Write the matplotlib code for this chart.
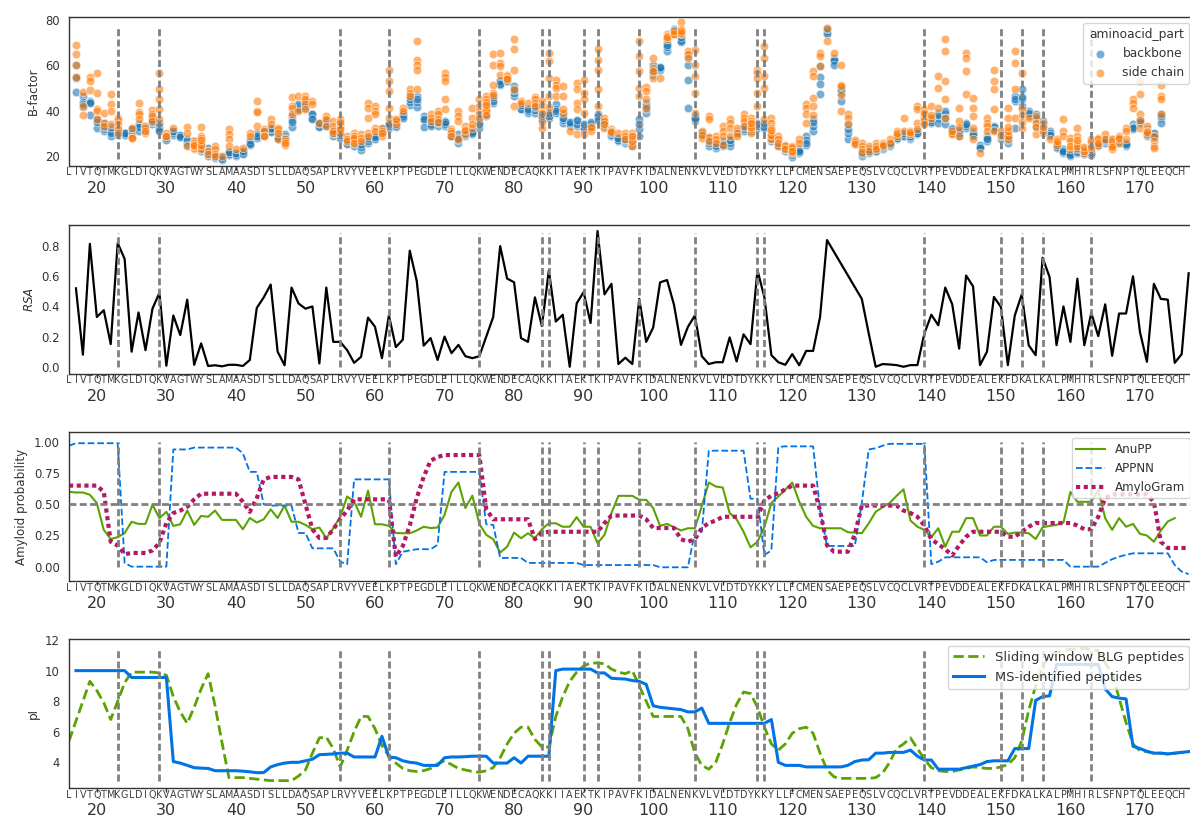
import matplotlib
matplotlib.use('Agg')
import matplotlib.pyplot as plt
import numpy as np

# Mature BLG sequence, residue 1 sits at position 16 on the x axis
sequence = ("LIVTQTMKGL" "DIQKVAGTWY" "SLAMAASDIS" "LLDAQSAPLR" "VYVEELKPTP"
            "EGDLEILLQK" "WENDECAQKK" "IIAEKTKIPA" "VFKIDALNEN" "KVLVLDTDYK"
            "KYLLFCMENS" "AEPEQSLVCQ" "CLVRTPEVDD" "EALEKFDKAL" "KALPMHIRLS"
            "FNPTQLEEQC" "HI")
seq_start = 16
seq_pos = list(range(seq_start, seq_start + len(sequence)))
# letters shown under the axis (the last residue falls off the edge)
label_pos = seq_pos[:-1]
label_letters = list(sequence[:-1])

# trypsin cleavage sites
cut_sites = [23, 29, 55, 62, 75, 84, 85, 90, 92, 98, 106, 115, 116, 139, 150, 153, 156, 163]

# B-factors per residue (17..173): backbone atoms and side chain atoms
bfactor_start = 17
backbone_b = [
    [48.5, 55.0, 54.5, 60.0], [46.5, 44.0, 41.5, 43.0], [44.5, 44.0, 43.5, 38.0], [36.5, 32.5, 36.0, 35.0],
    [31.0, 32.0, 34.5, 33.0], [31.0, 28.8, 30.0, 33.0], [30.0, 30.0, 31.0, 29.5], [30.0, 30.0, 29.5, 30.0],
    [31.8, 31.0, 32.0, 30.0], [33.0, 31.0, 34.0, 33.0], [32.0, 32.5, 31.5, 33.0], [36.0, 34.0, 35.0, 36.5],
    [33.0, 32.0, 34.5, 31.0], [27.5, 28.5, 27.0, 28.0], [29.5, 31.0, 30.0, 31.0], [29.0, 29.0, 29.5, 28.5],
    [27.5, 26.2, 27.0, 25.0], [26.5, 25.0, 26.0, 25.5], [22.2, 24.4, 23.0, 23.5], [20.0, 23.7, 22.0, 21.0],
    [19.3, 20.0, 20.5, 19.5], [18.5, 19.0, 19.5, 18.8], [20.7, 21.8, 21.0, 22.0], [20.0, 21.0, 20.5, 21.5],
    [21.2, 22.0, 21.0, 22.5], [25.0, 26.0, 27.0, 25.5], [28.8, 28.0, 30.0, 29.0], [30.0, 29.5, 31.0, 30.5],
    [31.0, 30.5, 32.0, 32.5], [28.8, 27.5, 29.0, 28.0], [29.6, 29.0, 28.0, 27.5], [33.0, 37.6, 36.0, 35.0],
    [42.0, 40.6, 41.0, 43.0], [41.3, 43.5, 42.0, 44.0], [38.4, 37.0, 38.8, 36.5], [33.5, 34.0, 33.0, 34.5],
    [35.0, 34.0, 33.5, 35.5], [31.0, 28.8, 30.0, 31.5], [28.8, 28.0, 29.5, 30.0], [25.9, 26.5, 25.5, 27.0],
    [25.1, 24.4, 26.0, 25.5], [22.6, 25.0, 24.0, 25.5], [25.9, 27.4, 26.5, 28.0], [28.1, 27.4, 29.0, 28.5],
    [31.8, 32.0, 31.0, 30.5], [32.5, 34.7, 33.5, 34.0], [33.0, 34.0, 33.5, 35.0], [38.0, 37.5, 38.5, 37.0],
    [42.4, 46.5, 44.0, 45.0], [41.8, 46.5, 44.0, 45.0], [37.6, 35.9, 36.5, 33.0], [34.7, 34.0, 35.5, 33.5],
    [35.4, 33.5, 34.5, 35.0], [35.4, 33.2, 34.0, 35.0], [29.6, 28.8, 30.0, 29.0], [29.6, 25.9, 27.0, 28.0],
    [28.8, 30.3, 29.5, 30.0], [29.6, 31.0, 30.5, 30.0], [32.5, 36.9, 35.0, 34.0], [37.6, 40.6, 39.0, 38.5],
    [45.0, 43.5, 44.5, 46.0], [53.1, 51.6, 53.0, 52.0], [53.4, 53.8, 53.0, 54.0], [50.9, 46.5, 48.0, 49.0],
    [42.0, 40.6, 41.0, 42.5], [40.6, 39.1, 40.0, 41.0], [42.0, 39.1, 40.5, 41.5], [36.2, 38.4, 37.0, 37.5],
    [38.4, 36.9, 37.5, 39.0], [42.8, 39.1, 41.0, 40.0], [38.4, 34.7, 36.0, 37.0], [34.7, 33.2, 34.0, 35.0],
    [35.4, 33.2, 34.0, 36.0], [33.2, 31.8, 32.5, 34.0], [34.0, 32.5, 33.5, 35.0], [36.9, 38.4, 37.5, 36.0],
    [34.0, 33.2, 34.5, 35.0], [28.8, 30.3, 29.5, 30.0], [27.4, 26.6, 27.0, 28.0], [25.9, 26.5, 27.0, 27.5],
    [25.9, 24.4, 25.0, 26.0], [36.2, 29.1, 32.0, 34.0], [43.5, 39.1, 41.0, 42.0], [60.4, 56.0, 58.0, 57.0],
    [59.0, 58.2, 58.8, 59.5], [70.0, 66.3, 68.0, 69.0], [75.9, 74.4, 75.0, 75.5], [71.8, 70.3, 71.0, 72.5],
    [53.8, 64.1, 41.3, 60.0], [37.6, 35.4, 36.5, 37.0], [30.3, 28.8, 29.5, 30.0], [28.1, 24.4, 26.0, 27.0],
    [23.7, 25.9, 25.0, 24.5], [24.4, 25.9, 25.0, 26.5], [27.4, 24.4, 26.0, 27.0], [29.6, 31.0, 30.5, 30.0],
    [32.5, 31.0, 32.0, 33.0], [32.5, 31.0, 32.0, 33.0], [34.7, 32.5, 33.5, 34.0], [34.0, 32.5, 33.0, 34.5],
    [28.8, 26.6, 27.5, 28.0], [24.4, 25.9, 25.0, 24.8], [22.2, 24.4, 23.5, 23.0], [19.5, 21.5, 21.0, 20.5],
    [21.5, 23.0, 22.0, 22.5], [25.1, 28.8, 27.0, 26.0], [31.0, 36.2, 33.5, 35.0], [47.2, 59.7, 55.0, 52.0],
    [73.7, 75.1, 74.5, 76.0], [63.4, 61.9, 62.5, 60.4], [44.3, 50.1, 48.0, 49.0], [34.0, 27.4, 30.0, 32.0],
    [25.9, 26.5, 25.5, 26.0], [20.0, 22.2, 21.0, 21.5], [21.5, 22.5, 22.0, 23.0], [22.2, 23.0, 22.5, 23.5],
    [23.0, 24.4, 23.5, 24.0], [24.4, 25.9, 25.0, 25.5], [27.4, 28.8, 28.0, 27.8], [28.8, 29.6, 29.0, 30.0],
    [27.4, 28.1, 28.5, 29.0], [29.6, 30.3, 31.0, 30.0], [34.7, 36.2, 35.5, 35.0], [34.7, 36.9, 36.0, 35.0],
    [39.1, 36.9, 34.7, 38.0], [38.4, 39.9, 34.0, 37.0], [32.5, 30.3, 31.5, 32.0], [31.0, 28.8, 30.0, 31.5],
    [34.7, 32.5, 33.5, 34.0], [31.0, 28.8, 30.0, 29.5], [24.4, 25.1, 24.0, 23.7], [26.6, 28.8, 28.0, 27.5],
    [32.5, 33.2, 33.0, 31.5], [28.8, 27.4, 28.0, 29.0], [25.9, 28.8, 27.0, 28.0], [32.5, 44.3, 46.5, 45.0],
    [49.4, 42.0, 45.0, 46.0], [39.9, 37.6, 38.5, 39.0], [38.4, 33.2, 36.0, 37.0], [35.4, 31.8, 33.5, 34.0],
    [31.0, 28.8, 30.0, 29.5], [24.4, 23.7, 25.0, 24.0], [23.0, 21.5, 22.0, 22.5], [20.0, 21.5, 21.0, 20.5],
    [21.5, 22.2, 22.0, 23.0], [21.5, 22.2, 21.0, 22.5], [20.7, 22.2, 21.5, 23.0], [24.4, 25.9, 25.0, 24.8],
    [25.9, 27.4, 26.5, 27.0], [27.4, 25.9, 26.5, 27.0], [27.4, 25.9, 26.5, 27.5], [24.4, 25.9, 25.0, 25.5],
    [34.0, 31.8, 33.0, 32.5], [35.4, 34.7, 36.0, 35.0], [28.8, 31.8, 30.0, 29.5], [29.6, 30.0, 29.0, 28.5],
    [38.4, 36.9, 34.7, 37.5],
]
sidechain_b = [
    [69, 65, 60, 55], [48.5, 42, 38], [55, 53, 49], [56.5, 48, 41, 40, 36.5], [39, 34.5, 33.5],
    [47.5, 43, 40, 34], [37, 36, 34, 32, 30], [], [32.5, 29, 28, 28], [43.5, 39.5, 38.5, 36.5],
    [33.2, 32.5, 30.3, 31], [40.5, 38.5, 37.5, 35.5], [56.5, 49.5, 45.3, 40.6, 36.2], [30.3, 29, 28.8], [32.5],
    [], [33, 30.3, 24.5], [26.6, 25.1, 23.7, 23, 24, 25, 26, 23.5, 24.5, 25],
    [33, 28.8, 28.1, 26, 24.4, 23.2, 25, 27], [22.2, 20.8],
    [24.4, 23, 21, 20], [20], [31.8, 29.6, 27.4, 24.4], [23], [23.7],
    [30.3, 28.8], [44.3, 40.1, 39.4, 33.2], [31.8, 31, 29, 28.8], [36.5, 34], [32.5, 31.8, 27.6, 30],
    [27.6, 26.6, 25.1, 26], [46.2, 42, 41.3, 38.4], [46.5, 39.9], [46.5, 45, 42.8, 40.6], [44.3, 42.8],
    [34.7], [37.6, 36.5, 33.2], [35.4, 33.2, 31, 30], [36.2, 34.7, 33.2, 31.8, 30.3, 32, 35], [28.8, 27.4, 26.6],
    [30.3, 28.8, 27.4, 26.2, 27, 29, 28, 26], [29.6, 28.1, 26.6], [43.5, 41.3, 36.9, 30.3, 29],
    [42, 39.9, 38.4, 32.5, 31], [32.5, 31, 28.8, 30],
    [58.2, 53.1, 48.7, 41.3, 36.9], [35.4, 34, 36.5], [41.3, 39.9], [49.4, 48, 46.5], [70.7, 62.4, 60.4, 58.2, 49.7],
    [], [38.4, 36.9, 35.4], [39.9, 38.4, 36.5, 35], [56.8, 55, 53.1, 45.3, 40.6], [31.8, 31, 30, 29],
    [39.9, 37.6, 35.4, 27.4], [33.2, 31, 29.6, 31.5], [41.3, 36.9, 32.5, 34], [45, 42, 39.9, 38.4, 37],
    [46.5, 45, 43.5, 42, 39.9, 41, 44, 40, 42.5, 38],
    [64.9, 60.4, 51.6, 48, 47], [65.6, 61.2, 59.7, 56], [56, 55.3, 54.5, 54], [71.8, 67.1, 58.2, 49.4, 42], [44.3, 43.5],
    [43.5], [46.2, 45, 43.5, 42], [44.3, 42, 39.1, 32.5, 35], [65.6, 61.9, 54.6, 46.5, 41.8], [53.8, 51.6, 50.1, 46.5],
    [50.9, 46.5, 39.1, 41], [31], [52.4, 49.4, 43.5, 40.6, 29.6], [53.8, 48, 45, 39.1, 29.6], [32.5, 31, 33],
    [67.4, 62.6, 58.2, 49.4, 42], [36.9, 35.4, 32.5, 34], [31.8, 31, 30.5], [30.3], [30.3, 28.8, 27.4],
    [30.3, 28.8, 27.4, 25.9, 24.4, 26.5, 29], [70.7, 64.1, 57.5, 50.1, 46.5], [50.6, 48.7, 45, 41.3],
    [63.4, 59, 54.6, 57.5], [54.6],
    [73.7, 73, 71.5, 72.5], [74.4, 73.7, 74, 75], [79.1, 76, 73.7, 74.5, 75], [66.3, 64.9, 63.4],
    [67, 60.4, 55.3, 48, 39.1],
    [31, 28.1, 29.5], [37.6, 36.2, 28.5, 26.6], [28.8, 27.4, 25.9], [33.2, 31, 28.8, 25.1], [36.2, 34.7, 32.5, 28.8],
    [32.5, 30.3, 28.8], [38.4, 36.9, 35.4, 33.2], [36.9, 35.4, 34, 32.5, 31.8, 30.3, 33, 34.5],
    [58.2, 56.8, 54.6, 48, 42], [68.5, 63.4, 55.3, 50.1, 36.2],
    [36.9, 34.7, 32.5, 30.3, 28.8, 27.4, 29.5, 31.5], [28.8, 27.4, 24.4, 26], [25.1, 23.7, 24.5, 23],
    [24.4, 23, 21.5, 22, 23.5, 24, 22.5], [27.4, 25.9],
    [42.8, 41.3, 38.4, 34.7], [57.5, 55.3, 45.7, 42, 38], [65.6, 64.1, 59.7], [76.6, 70.7], [65.6],
    [60.4, 51.6, 50.9, 39.9, 47], [38.4, 36.9, 34], [26.6, 25.9, 27, 26.2, 25.5], [25.9, 24.4, 23, 22], [24.4, 22.2],
    [25.9, 23.7, 24.5, 23], [25.9, 24.4, 25], [27.4, 25.9], [31, 29.6, 28.8, 30], [36.9, 31],
    [31, 30.3, 29.6, 30.6], [42, 40.6, 34.7, 31.8], [40.6, 38.4, 36.2, 37, 35.4, 34, 39], [42, 36.9, 38],
    [55.3, 50.1, 41.3],
    [71.5, 66.3, 53.1, 36.9, 45], [30.3, 29.6, 31], [41.3, 35.4, 28.8, 33], [65.6, 63.4, 57.5, 47.2],
    [45.7, 41.3, 37.6, 32.5, 27.4],
    [21.5], [36.9, 34.7, 33.2, 31], [58.2, 53.1, 49.4, 40.6, 31], [29.6, 28.8, 30, 31, 29.2],
    [41.3, 36.9, 30.3, 27.4, 29, 31, 33],
    [66.3, 61.2, 49.4, 36.9], [56.8, 40.6, 32.5, 38, 35], [36.9], [37.6, 34.7, 29.6, 33], [34.7, 32.5, 30.3, 31, 33],
    [27.4], [27.4, 25.9, 25.1, 26.5], [36.2, 31, 28.8], [28.1, 26.6, 23, 24.5], [32.5, 28.8, 25.9, 23.7, 24.5, 27],
    [23, 21.5, 22.5, 24], [27.4, 25.9, 24.4, 23, 25, 26.5, 24], [28.1, 27.4, 25.1, 26], [29.6, 27.4],
    [27.4, 25.9, 24.4, 23, 25, 26.5, 24],
    [28.8, 27.4, 26, 28], [32.5, 31, 27.4], [45, 43.5, 41.3], [53.1, 47.2, 38.4, 32.5, 36], [33.2, 31, 29.6, 30.5],
    [28.8, 26.6, 24.4, 23.7], [51.6, 46.5, 45, 38.4],
]

# relative solvent accessibility (no values for 126-129)
rsa_pos = list(range(17, 126)) + list(range(130, 178))
rsa = [
    0.52, 0.08, 0.815, 0.33, 0.375, 0.15, 0.82, 0.715, 0.10, 0.36, 0.11, 0.385, 0.49, 0.007,
    0.34, 0.21, 0.445, 0.013, 0.155, 0.005, 0.01, 0.003, 0.013, 0.013, 0.005, 0.045, 0.39, 0.46,
    0.545, 0.10, 0.01, 0.525, 0.42, 0.385, 0.40, 0.022, 0.525, 0.165, 0.165, 0.11, 0.026, 0.066,
    0.326, 0.265, 0.057, 0.34, 0.13, 0.18, 0.77, 0.57, 0.14, 0.19, 0.045, 0.20, 0.09, 0.145,
    0.07, 0.057, 0.07, 0.20, 0.33, 0.80, 0.585, 0.56, 0.19, 0.165, 0.46, 0.27, 0.64, 0.30,
    0.345, 0.0, 0.42, 0.495, 0.29, 0.90, 0.48, 0.55, 0.018, 0.06, 0.018, 0.45, 0.165, 0.26,
    0.56, 0.575, 0.41, 0.145, 0.265, 0.34, 0.07, 0.018, 0.03, 0.03, 0.195, 0.035, 0.215, 0.15,
    0.64, 0.46, 0.077, 0.03, 0.013, 0.084, 0.01, 0.105, 0.105, 0.33, 0.84,
    0.45, 0.22, 0.0, 0.018, 0.015, 0.011, 0.0, 0.011, 0.011, 0.22, 0.345, 0.275, 0.525, 0.415,
    0.12, 0.605, 0.533, 0.011, 0.10, 0.463, 0.397, 0.011, 0.34, 0.48, 0.143, 0.077, 0.723, 0.595,
    0.143, 0.40, 0.165, 0.584, 0.143, 0.357, 0.203, 0.414, 0.073, 0.353, 0.353, 0.60, 0.23, 0.033,
    0.55, 0.45, 0.445, 0.026, 0.084, 0.62,
]

# amyloid predictors, from residue 16
anupp = [
    0.60, 0.595, 0.595, 0.577, 0.51, 0.295, 0.222, 0.236, 0.27, 0.36, 0.343, 0.343, 0.496, 0.389,
    0.44, 0.327, 0.34, 0.45, 0.335, 0.407, 0.40, 0.45, 0.375, 0.375, 0.375, 0.30, 0.39, 0.354,
    0.38, 0.46, 0.39, 0.49, 0.36, 0.36, 0.335, 0.30, 0.314, 0.228, 0.308, 0.40, 0.563, 0.523,
    0.40, 0.61, 0.34, 0.34, 0.327, 0.27, 0.268, 0.268, 0.29, 0.32, 0.31, 0.314, 0.415, 0.60,
    0.675, 0.47, 0.57, 0.343, 0.255, 0.22, 0.113, 0.16, 0.273, 0.228, 0.268, 0.228, 0.30, 0.348,
    0.348, 0.32, 0.32, 0.397, 0.32, 0.32, 0.188, 0.255, 0.43, 0.568, 0.568, 0.568, 0.536, 0.536,
    0.47, 0.327, 0.343, 0.316, 0.29, 0.308, 0.308, 0.488, 0.675, 0.643, 0.635, 0.43, 0.38, 0.28,
    0.155, 0.20, 0.32, 0.51, 0.563, 0.617, 0.675, 0.523, 0.40, 0.327, 0.308, 0.308, 0.308, 0.308,
    0.276, 0.273, 0.268, 0.348, 0.44, 0.477, 0.51, 0.568, 0.62, 0.37, 0.32, 0.295, 0.236, 0.308,
    0.16, 0.28, 0.28, 0.389, 0.389, 0.25, 0.25, 0.32, 0.32, 0.263, 0.273, 0.273, 0.268, 0.222,
    0.316, 0.327, 0.335, 0.354, 0.60, 0.52, 0.52, 0.52, 0.617, 0.389, 0.295, 0.389, 0.32, 0.343,
    0.263, 0.25, 0.20, 0.29, 0.362, 0.389,
]
appnn = [
    0.97, 0.99, 0.99, 0.99, 0.99, 0.99, 0.99, 0.99, 0.03, 0.0, 0.0, 0.0, 0.0, 0.0,
    0.0, 0.94, 0.94, 0.94, 0.955, 0.955, 0.955, 0.955, 0.955, 0.955, 0.955, 0.91, 0.76, 0.76,
    0.50, 0.49, 0.49, 0.49, 0.49, 0.27, 0.27, 0.147, 0.147, 0.147, 0.147, 0.04, 0.02, 0.70,
    0.70, 0.70, 0.70, 0.70, 0.70, 0.02, 0.12, 0.13, 0.14, 0.14, 0.14, 0.175, 0.76, 0.76,
    0.76, 0.76, 0.76, 0.76, 0.34, 0.335, 0.07, 0.07, 0.07, 0.07, 0.03, 0.03, 0.03, 0.03,
    0.03, 0.03, 0.03, 0.03, 0.013, 0.013, 0.013, 0.013, 0.013, 0.013, 0.013, 0.013, 0.013, 0.013,
    0.013, -0.005, -0.005, -0.005, -0.005, -0.005, 0.28, 0.28, 0.93, 0.93, 0.93, 0.93, 0.93, 0.93,
    0.545, 0.545, 0.094, 0.13, 0.96, 0.965, 0.965, 0.965, 0.965, 0.965, 0.455, 0.166, 0.166, 0.166,
    0.166, 0.166, 0.51, 0.94, 0.95, 0.97, 0.985, 0.985, 0.985, 0.985, 0.985, 0.985, 0.02, 0.04,
    0.075, 0.075, 0.075, 0.075, 0.075, 0.075, 0.035, 0.054, 0.054, 0.054, 0.054, 0.054, 0.054, 0.054,
    0.054, 0.054, 0.054, 0.054, 0.0, 0.0, 0.0, 0.0, 0.0, 0.03, 0.06, 0.08, 0.095, 0.107,
    0.107, 0.107, 0.107, 0.107, 0.107, 0.013, -0.04, -0.06,
]
amylogram = [
    0.65, 0.65, 0.65, 0.65, 0.65, 0.60, 0.20, 0.17, 0.10, 0.11, 0.11, 0.11, 0.13, 0.19,
    0.35, 0.43, 0.45, 0.48, 0.54, 0.585, 0.585, 0.585, 0.585, 0.585, 0.585, 0.52, 0.44, 0.55,
    0.70, 0.72, 0.72, 0.72, 0.72, 0.70, 0.50, 0.30, 0.23, 0.23, 0.30, 0.38, 0.45, 0.54,
    0.54, 0.54, 0.54, 0.54, 0.54, 0.08, 0.166, 0.33, 0.55, 0.72, 0.85, 0.88, 0.895, 0.895,
    0.895, 0.895, 0.895, 0.895, 0.46, 0.38, 0.38, 0.38, 0.38, 0.38, 0.38, 0.22, 0.27, 0.28,
    0.28, 0.28, 0.28, 0.28, 0.28, 0.28, 0.28, 0.35, 0.41, 0.41, 0.41, 0.41, 0.41, 0.38,
    0.31, 0.31, 0.31, 0.31, 0.22, 0.20, 0.22, 0.31, 0.35, 0.37, 0.40, 0.40, 0.40, 0.40,
    0.40, 0.40, 0.53, 0.57, 0.59, 0.62, 0.65, 0.65, 0.65, 0.65, 0.45, 0.17, 0.12, 0.12,
    0.12, 0.26, 0.49, 0.49, 0.49, 0.49, 0.49, 0.49, 0.45, 0.43, 0.40, 0.33, 0.22, 0.18,
    0.14, 0.09, 0.17, 0.24, 0.28, 0.28, 0.28, 0.28, 0.28, 0.24, 0.24, 0.28, 0.32, 0.35,
    0.35, 0.35, 0.35, 0.35, 0.35, 0.33, 0.30, 0.30, 0.40, 0.55, 0.58, 0.58, 0.58, 0.58,
    0.58, 0.58, 0.52, 0.20, 0.15, 0.15, 0.15, 0.15,
]

# isoelectric points: sliding window from 16, MS peptides from 17
pi_window = [
    5.4, 6.7, 8.0, 9.3, 8.7, 7.9, 6.8, 8.0, 9.2, 9.9, 9.9, 9.9, 9.9, 9.85,
    9.7, 8.3, 7.3, 6.55, 7.6, 8.8, 9.8, 7.7, 5.3, 3.0, 3.0, 3.0, 2.95, 2.9,
    2.85, 2.8, 2.8, 2.8, 2.8, 3.1, 3.5, 4.6, 5.6, 5.65, 4.9, 3.7, 4.8, 6.0,
    7.0, 7.0, 6.2, 5.1, 4.4, 3.95, 3.6, 3.45, 3.4, 3.45, 3.6, 3.9, 4.1, 3.85,
    3.6, 3.5, 3.4, 3.35, 3.45, 3.65, 4.3, 5.2, 5.9, 6.3, 6.3, 5.5, 5.0, 5.0,
    7.0, 8.3, 9.3, 9.9, 10.3, 10.5, 10.5, 10.45, 10.1, 9.9, 9.8, 10.0, 9.0, 8.0,
    7.0, 7.0, 7.0, 7.0, 7.0, 6.2, 4.6, 3.8, 3.55, 4.0, 5.2, 6.6, 7.8, 8.6,
    8.5, 7.6, 6.3, 5.2, 4.8, 5.2, 5.9, 6.2, 6.3, 5.9, 4.6, 3.5, 3.05, 2.95,
    2.95, 2.95, 2.95, 2.95, 3.0, 3.3, 4.0, 4.9, 5.2, 5.6, 4.9, 4.2, 3.65, 3.45,
    3.4, 3.4, 3.5, 3.6, 3.7, 3.65, 3.6, 3.6, 3.7, 3.85, 4.3, 5.4, 7.4, 9.0,
    10.3, 11.0, 11.2, 11.3, 11.4, 11.4, 11.45, 11.4, 11.3, 10.5, 9.8, 8.2, 6.6, 5.2,
    4.75, 4.7, 4.6, 4.6, 4.55, 4.6, 4.65, 4.7,
]
pi_ms = [
    10.0, 10.0, 10.0, 10.0, 10.0, 10.0, 10.0, 10.0, 9.55, 9.55, 9.55, 9.55, 9.55, 9.55,
    4.05, 3.95, 3.8, 3.65, 3.62, 3.6, 3.45, 3.45, 3.45, 3.45, 3.42, 3.38, 3.32, 3.33,
    3.7, 3.85, 3.95, 4.0, 4.0, 4.1, 4.2, 4.5, 4.52, 4.55, 4.6, 4.6, 4.35, 4.35,
    4.35, 4.35, 5.7, 4.35, 4.3, 4.1, 4.0, 3.95, 3.8, 3.8, 3.8, 4.3, 4.35, 4.35,
    4.37, 4.4, 4.4, 4.4, 3.95, 3.95, 3.95, 4.3, 3.95, 4.4, 4.4, 4.4, 4.4, 10.0,
    10.1, 10.1, 10.1, 10.1, 10.1, 9.85, 9.85, 9.5, 9.47, 9.45, 9.35, 9.3, 9.1, 7.7,
    7.6, 7.55, 7.5, 7.45, 7.3, 7.3, 7.55, 6.55, 6.55, 6.55, 6.55, 6.55, 6.55, 6.55,
    6.55, 6.55, 6.8, 4.0, 3.8, 3.8, 3.8, 3.7, 3.7, 3.7, 3.7, 3.7, 3.7, 3.8,
    4.05, 4.15, 4.17, 4.6, 4.6, 4.65, 4.65, 4.65, 4.8, 4.4, 4.15, 4.15, 3.55, 3.55,
    3.55, 3.55, 3.65, 3.75, 3.85, 4.05, 4.1, 4.1, 4.1, 4.9, 4.9, 4.9, 8.05, 8.3,
    8.35, 10.4, 10.4, 10.4, 10.4, 10.4, 10.4, 10.4, 8.8, 8.3, 8.2, 8.15, 5.05, 4.9,
    4.72, 4.6, 4.6, 4.55, 4.6, 4.65, 4.7,
]

GREEN = '#5ba300'
BLUE = '#0073e6'
MAGENTA = '#b51963'
TEXT = '0.2'

fig = plt.figure(figsize=(11.9, 8.25), dpi=100)
left = 69 / 1190
width = (1195.6 - 69) / 1190
height = 149 / 825
bottoms_px = [165.7, 373.7, 581.0, 788.3]
axes = [fig.add_axes([left, 1 - b / 825, width, height]) for b in bottoms_px]


def style_axis(ax, vmin, vmax):
    ax.set_xlim(16, 178)
    ax.xaxis.remove_overlapping_locs = False
    ax.set_xticks(label_pos, minor=True)
    ax.set_xticklabels(label_letters, minor=True)
    ax.set_xticks(range(20, 180, 10))
    ax.tick_params(axis='x', which='minor', length=0, pad=1.2, labelsize=6.9, labelcolor='0.25')
    ax.tick_params(axis='x', which='major', length=2.6, width=1, pad=8.3, labelsize=11.5,
                   labelcolor=TEXT, color=TEXT)
    ax.tick_params(axis='y', length=0, pad=6.5, labelsize=8.4, labelcolor=TEXT)
    for s in ax.spines.values():
        s.set_color(TEXT)
        s.set_linewidth(1.0)
    ax.vlines(cut_sites, vmin, vmax, colors='gray', linestyles=(0, (2.5, 1.2)), linewidth=2, zorder=5)


def style_legend(leg):
    leg.set_zorder(10)
    for t in leg.get_texts():
        t.set_color(TEXT)


# B-factor scatter
ax = axes[0]
bb_x, bb_y, sc_x, sc_y = [], [], [], []
for i, (bvals, svals) in enumerate(zip(backbone_b, sidechain_b)):
    bb_x += [bfactor_start + i] * len(bvals)
    bb_y += bvals
    sc_x += [bfactor_start + i] * len(svals)
    sc_y += svals
ax.scatter(bb_x, bb_y, s=38, color='#1f77b4', alpha=0.6, edgecolor='white', linewidth=0.6, label='backbone')
ax.scatter(sc_x, sc_y, s=38, color='#ff7f0e', alpha=0.6, edgecolor='white', linewidth=0.6, label='side chain')
ax.set_ylim(15.8, 81.5)
ax.set_yticks([20, 40, 60, 80])
ax.set_ylabel('B-factor', fontsize=8.6, color=TEXT)
style_axis(ax, 18.8, 77.6)
leg = ax.legend(title='aminoacid_part', loc='upper right', fontsize=8.8, title_fontsize=8.8,
                framealpha=0.8, edgecolor='0.8')
style_legend(leg)
leg.get_title().set_color(TEXT)

# RSA line
ax = axes[1]
ax.plot(rsa_pos, rsa, color='black', linewidth=1.6)
ax.set_ylim(-0.046, 0.942)
ax.set_yticks([0.0, 0.2, 0.4, 0.6, 0.8])
ax.set_ylabel('$RSA$', fontsize=8.6, color=TEXT)
style_axis(ax, 0.0, 0.885)

# amyloid probabilities
ax = axes[2]
ax.plot(seq_pos[:len(anupp)], anupp, color=GREEN, linewidth=1.5, label='AnuPP')
ax.plot(seq_pos[:len(appnn)], appnn, color=BLUE, linewidth=1.3, linestyle='--', label='APPNN')
ax.plot(seq_pos[:len(amylogram)], amylogram, color=MAGENTA, linewidth=3, linestyle=(0, (1, 0.85)),
        label='AmyloGram')
ax.axhline(0.5, color='gray', linestyle=(0, (2.5, 1.2)), linewidth=2, zorder=4)
ax.set_ylim(-0.115, 1.08)
ax.set_yticks([0.0, 0.25, 0.5, 0.75, 1.0])
ax.set_yticklabels(['0.00', '0.25', '0.50', '0.75', '1.00'])
ax.set_ylabel('Amyloid probability', fontsize=8.6, color=TEXT)
style_axis(ax, 0.0, 1.0)
style_legend(ax.legend(loc='upper right', fontsize=8.6, framealpha=0.8, edgecolor='0.8', handlelength=2.4))

# isoelectric points
ax = axes[3]
ax.plot(seq_pos[:len(pi_window)], pi_window, color=GREEN, linewidth=2, linestyle='--',
        label='Sliding window BLG peptides')
ax.plot(seq_pos[1:1 + len(pi_ms)], pi_ms, color=BLUE, linewidth=2.2, label='MS-identified peptides')
ax.set_ylim(2.3, 12.05)
ax.set_yticks([4, 6, 8, 10, 12])
ax.set_ylabel('pI', fontsize=8.6, color=TEXT)
style_axis(ax, 2.75, 11.4)
style_legend(ax.legend(loc='upper right', fontsize=9.4, framealpha=0.8, edgecolor='0.8', handlelength=2.4))

fig.savefig('out.png', dpi=100)
